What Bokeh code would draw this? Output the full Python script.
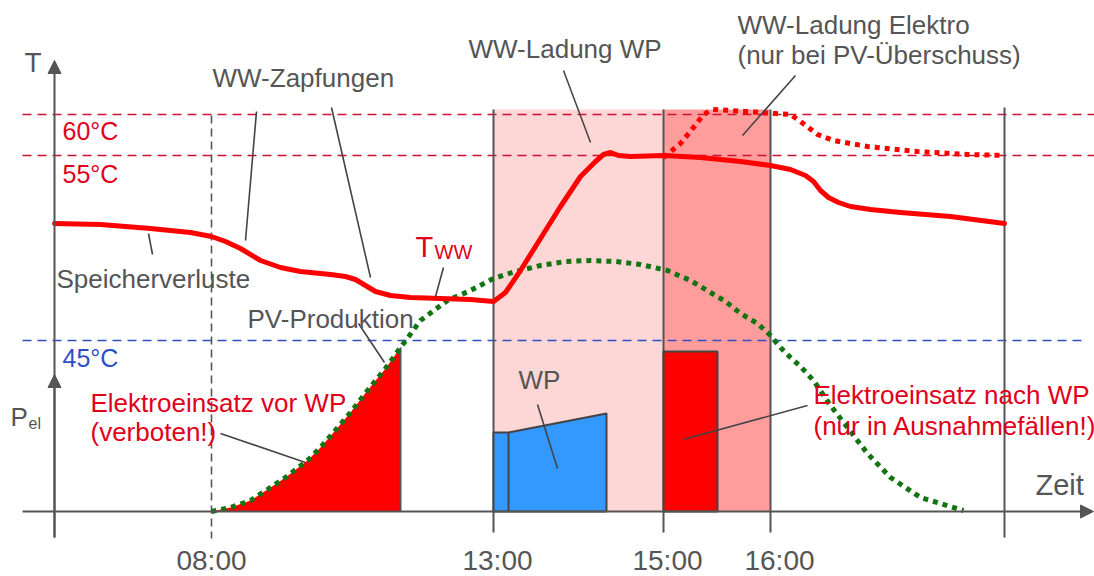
from bokeh.plotting import figure
from bokeh.models import Range1d, Arrow, NormalHead
from bokeh.core.properties import value
from bokeh.embed import file_html
from bokeh.resources import INLINE

FONT = "Liberation Sans"
GRAY = "#555555"
RED_TXT = "#E0001A"
RED_LINE = "#FF0000"
DASH_RED = "#CC1133"
BLUE = "#2E4FC4"
GREEN = "#127512"
TEXT_DY = -9

# ---- schematic data (x: time position, y: level; screen-like units) ----
t_ww_x = [54, 100, 150, 190, 211, 225, 240, 260, 280, 300, 330, 345, 355, 365, 375, 390, 410, 440, 470, 493,
          505, 520, 540, 560, 580, 595, 603, 610, 618, 630, 663, 700, 740, 770, 790, 805, 813, 820, 828, 838,
          850, 870, 900, 950, 1004]
t_ww_y = [223, 224, 228, 232, 236, 241, 248, 260, 267, 271, 274, 276, 279, 285, 291, 295, 297, 298, 299, 301,
          292, 270, 238, 206, 176, 161, 154, 152, 155, 156, 155, 157, 161, 165, 169, 175, 181, 190, 197, 202,
          206, 209, 212, 216, 223]

elektro_x = [663, 680, 693, 703, 712, 730, 760, 790, 800, 817, 833, 867, 917, 967, 1004]
elektro_y = [157, 143, 127, 114, 109, 110, 112, 114, 121, 134, 140, 146, 151, 154, 155]

pv_x = [211, 230, 250, 267, 285, 307, 320, 333, 350, 367, 385, 400, 420, 447, 470, 493, 515, 540, 565, 590,
        615, 640, 667, 690, 710, 725, 740, 757, 770, 780, 790, 800, 813, 830, 847, 867, 890, 920, 963]
pv_y = [511, 507, 500, 489, 477, 460, 447, 432, 412, 390, 368, 347, 320, 300, 290, 278, 271, 265, 261, 260,
        261, 264, 270, 280, 292, 301, 313, 323, 335, 347, 357, 366, 380, 405, 427, 453, 477, 497, 510]

pel_zero = 511           # P_el = 0 level (time axis)
t_left = 54              # time axis origin
t_end = 1004             # end of day
elektro_vor_end = 400    # end of forbidden electric heating

wp_x = [493, 493, 508, 606, 606]
wp_y = [511, 432, 432, 413, 511]
wp_split = 508

nach_left, nach_right, nach_top = 663, 717, 351

band_wp = (493, 663)
band_el = (663, 770)
band_top = 109

temp_levels = [114, 155, 340]
temp_labels = ["60°C", "55°C", "45°C"]

tick_x = [211, 493, 663, 770]
tick_labels = ["08:00", "13:00", "15:00", "16:00"]
tick_label_shift = [0, 4, 4, 9]

lead_x0 = [148, 256, 331, 443, 563, 795, 358, 220, 537, 683]
lead_y0 = [233, 111, 107, 267, 70, 75, 323, 433, 404, 439]
lead_x1 = [152, 245, 370, 435, 590, 742, 384, 305, 557, 807]
lead_y1 = [254, 240, 277, 296, 142, 135, 362, 462, 468, 405]

p = figure(width=1094, height=576, x_range=Range1d(0, 1094), y_range=Range1d(576, 0),
           output_backend="svg", toolbar_location=None, x_axis_type=None, y_axis_type=None,
           min_border=0)
p.min_border_left = p.min_border_right = p.min_border_top = p.min_border_bottom = 0
p.outline_line_color = None
p.grid.grid_line_color = None
p.background_fill_color = "white"


def txt(x, y, s, size, color, align="left"):
    p.text(x=[x], y=[y + TEXT_DY], text=[s], text_font=value(FONT), text_font_size=f"{size}px",
           text_color=color, text_align=align, text_baseline="alphabetic")


# bands
p.quad(left=[band_wp[0]], right=[band_wp[1]], top=[band_top], bottom=[pel_zero],
       fill_color="#FDD6D6", line_color=None)
p.quad(left=[band_el[0]], right=[band_el[1]], top=[band_top], bottom=[pel_zero],
       fill_color="#FF9D9D", line_color=None)

# horizontal dashed temperature lines
p.segment(x0=[22, 22], y0=temp_levels[:2], x1=[1094, 1094], y1=temp_levels[:2],
          line_color=DASH_RED, line_width=1.6, line_dash="9 6")
p.segment(x0=[22], y0=[temp_levels[2]], x1=[1082], y1=[temp_levels[2]],
          line_color=BLUE, line_width=1.6, line_dash="9 6")

# vertical lines
p.segment(x0=[tick_x[0]], y0=[115], x1=[tick_x[0]], y1=[538], line_color=GRAY,
          line_width=1.6, line_dash="8 5")
p.segment(x0=tick_x[1:], y0=[band_top] * 3, x1=tick_x[1:], y1=[532] * 3,
          line_color=GRAY, line_width=2)
p.segment(x0=[t_end], y0=[107], x1=[t_end], y1=[537], line_color=GRAY, line_width=2)

# red area under PV before WP
fx = [x for x in pv_x if x <= elektro_vor_end]
fy = [pv_y[i] for i, x in enumerate(pv_x) if x <= elektro_vor_end]
p.varea(x=fx, y1=[pel_zero] * len(fx), y2=fy, fill_color="#FF0000")
p.segment(x0=[elektro_vor_end], y0=[pel_zero], x1=[elektro_vor_end], y1=[fy[-1]],
          line_color=GRAY, line_width=2)

# WP power
p.patch(x=wp_x, y=wp_y, fill_color="#3399FF", line_color="#444444", line_width=2)
p.segment(x0=[wp_split], y0=[pel_zero], x1=[wp_split], y1=[wp_y[2]], line_color="#444444", line_width=2)

# Elektro nach WP
p.quad(left=[nach_left], right=[nach_right], top=[nach_top], bottom=[pel_zero],
       fill_color="#FF0000", line_color="#444444", line_width=2)

# axes
head = dict(size=13, fill_color=GRAY, line_color=GRAY)
p.add_layout(Arrow(end=NormalHead(**head), x_start=t_left, y_start=537, x_end=t_left, y_end=60,
                   line_color=GRAY, line_width=2))
p.add_layout(Arrow(end=NormalHead(**head), x_start=t_left, y_start=537, x_end=t_left, y_end=374,
                   line_color=GRAY, line_width=2))
p.add_layout(Arrow(end=NormalHead(**head), x_start=22, y_start=pel_zero, x_end=1093, y_end=pel_zero,
                   line_color=GRAY, line_width=2))

# PV curve (dotted green)
p.line(pv_x, pv_y, line_color=GREEN, line_width=5, line_dash="5 5", line_cap="butt")

# temperature curves
p.line(elektro_x, elektro_y, line_color=RED_LINE, line_width=5, line_dash="5 5", line_cap="butt")
p.line(t_ww_x, t_ww_y, line_color=RED_LINE, line_width=5, line_join="round", line_cap="round")

# leader lines
p.segment(x0=lead_x0, y0=lead_y0, x1=lead_x1, y1=lead_y1, line_color="#444444", line_width=1.6)

# texts
txt(24, 71, "T", 28, GRAY)
txt(10, 425, "P", 26, GRAY)
txt(28, 432, "el", 16, GRAY)
txt(62, 139, temp_labels[0], 25, RED_TXT)
txt(62, 182, temp_labels[1], 25, RED_TXT)
txt(62, 366, temp_labels[2], 25, BLUE)
txt(212, 86, "WW-Zapfungen", 26, GRAY)
txt(56, 287, "Speicherverluste", 26, GRAY)
txt(468, 57, "WW-Ladung WP", 26, GRAY)
txt(737, 33, "WW-Ladung Elektro", 26, GRAY)
txt(737, 63, "(nur bei PV-Überschuss)", 26, GRAY)
txt(415, 255, "T", 29, RED_TXT)
txt(434, 260, "WW", 20, RED_TXT)
txt(247, 327, "PV-Produktion", 26, GRAY)
txt(90, 411, "Elektroeinsatz vor WP", 26, RED_TXT)
txt(90, 440, "(verboten!)", 26, RED_TXT)
txt(518, 388, "WP", 26, GRAY)
txt(813, 403, "Elektroeinsatz nach WP", 26, RED_TXT)
txt(813, 434, "(nur in Ausnahmefällen!)", 26, RED_TXT)
txt(1035, 493, "Zeit", 29, GRAY)
for tx, lab, sh in zip(tick_x, tick_labels, tick_label_shift):
    txt(tx + sh, 569, lab, 28, GRAY, align="center")

open("out.html", "w").write(file_html(p, INLINE))
